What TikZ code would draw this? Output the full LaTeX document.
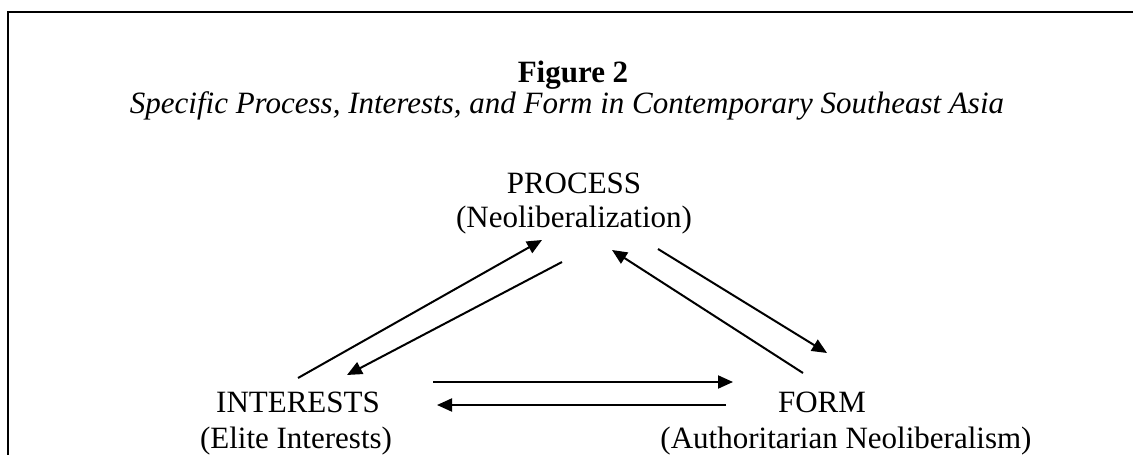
\documentclass[tikz,border=0pt]{standalone}
\usepackage{fontspec}
\setmainfont{Liberation Serif}
\usetikzlibrary{arrows.meta}
\tikzset{
  label/.style={anchor=base, inner sep=0pt, font=\fontsize{31}{36}\selectfont},
  link/.style={line width=2pt, -{Triangle[length=15pt,width=13pt]}},
  frame/.style={line width=2.6pt}
}
\begin{document}
\begin{tikzpicture}[x=1pt,y=-1pt]
\useasboundingbox (0,0) rectangle (1133,455);
% open frame: left and top edges only
\draw[frame] (8,456) -- (8,12) -- (1134,12);

% caption
\node[label, font=\fontsize{31}{36}\selectfont\bfseries] (fig) at (573,82) {Figure 2};
\node[label, font=\fontsize{31}{36}\selectfont\itshape] (sub) at (567,113)
  {Specific Process, Interests, and Form in Contemporary Southeast Asia};

% the three elements
\node[label] (process) at (574,193) {PROCESS};
\node[label] (processsub) at (574,227) {(Neoliberalization)};
\node[label] (interests) at (298,412) {INTERESTS};
\node[label] (interestssub) at (296,448) {(Elite Interests)};
\node[label] (form) at (822,412) {FORM};
\node[label] (formsub) at (846,448) {(Authoritarian Neoliberalism)};

% arrow end points
\coordinate (ip1) at (298,378);  \coordinate (pi1) at (542,240);
\coordinate (pi2) at (562,262);  \coordinate (ip2) at (347,375);
\coordinate (fp1) at (803,373);  \coordinate (pf1) at (612,250);
\coordinate (pf2) at (658,249);  \coordinate (fp2) at (827,353);
\coordinate (if1) at (433,382);  \coordinate (fi1) at (733,382);
\coordinate (fi2) at (726,405);  \coordinate (if2) at (437,405);

\draw[link] (ip1) -- (pi1);
\draw[link] (pi2) -- (ip2);
\draw[link] (fp1) -- (pf1);
\draw[link] (pf2) -- (fp2);
\draw[link] (if1) -- (fi1);
\draw[link] (fi2) -- (if2);
\end{tikzpicture}
\end{document}
